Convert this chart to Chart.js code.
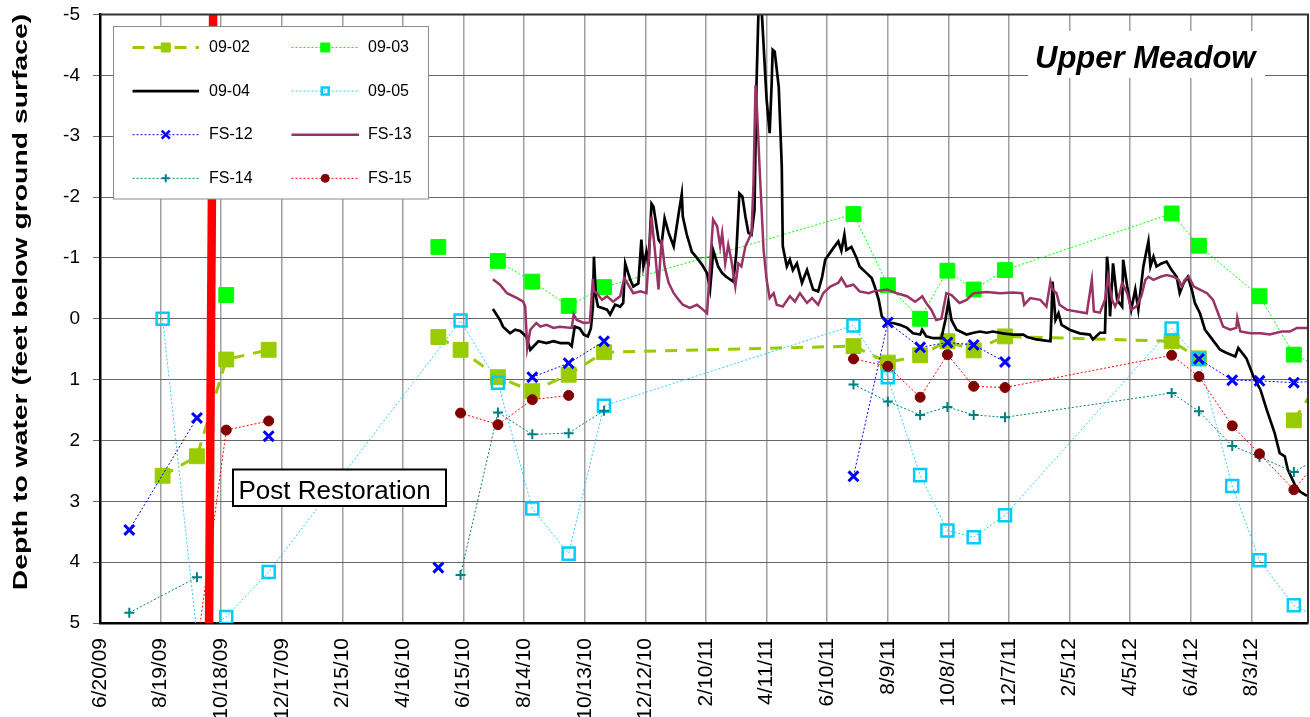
<!DOCTYPE html>
<html>
<head>
<meta charset="utf-8">
<title>Upper Meadow - depth to water</title>
<script src="https://cdn.jsdelivr.net/npm/chart.js@4.4.1/dist/chart.umd.min.js"></script>
<style>
  html, body { margin: 0; padding: 0; background: #fff; overflow: hidden; }
  canvas { display: block; }
</style>
</head>
<body>
<canvas id="chart" width="1310" height="717"></canvas>
<script>
const FONT = "Arial, 'Liberation Sans', sans-serif";
const Y_TITLE = "Depth to water (feet below ground surface)";
const SITE_NAME = "Upper Meadow";
const RESTORATION_LABEL = "Post Restoration";

// x axis: days counted from the first tick, one tick every 60 days
const START_DATE = "2009-06-20";
const END_DATE = "2012-09-28";
const TICK_STEP_DAYS = 60;

// y axis (depth below ground surface, negative = above ground)
const DEPTH_MIN = -5;
const DEPTH_MAX = 5;

// manual sampling rounds; the two winter rows have no readings (gap rows)
const SAMPLE_DATES = [
  "2009-07-19", "2009-08-21", "2009-09-24", "2009-10-23", "2009-12-04",
  "2010-03-01",
  "2010-05-21", "2010-06-12", "2010-07-19", "2010-08-22", "2010-09-27", "2010-11-01",
  "2011-03-01",
  "2011-07-06", "2011-08-09", "2011-09-10", "2011-10-07", "2011-11-02", "2011-12-03",
  "2012-05-16", "2012-06-12", "2012-07-15", "2012-08-11", "2012-09-14", "2012-10-10"
];

const __ = undefined; // not sampled: the line passes over it (null = line breaks)

const DEPTH_09_02 = [__, 2.58, 2.26, 0.67, 0.51, null, 0.30, 0.51, 0.96, 1.19, 0.92, 0.55, __,
  0.45, 0.72, 0.60, 0.37, 0.52, 0.29, 0.37, 0.65, null, null, 1.67, 1.00];
const DEPTH_09_03 = [__, __, __, -0.39, __, null, -1.18, null, -0.95, -0.61, -0.21, -0.52, __,
  -1.72, -0.55, 0.00, -0.79, -0.48, -0.80, -1.73, -1.20, __, -0.37, 0.59, 0.79];
const DEPTH_09_05 = [__, 0.00, 5.20, 4.90, 4.16, __, __, 0.03, 1.05, 3.12, 3.86, 1.43, __,
  0.11, 0.96, 2.57, 3.48, 3.59, 3.23, 0.16, 0.66, 2.75, 3.97, 4.71, 4.93];
const DEPTH_FS_12 = [3.47, __, 1.63, null, 1.93, null, 4.09, null, __, 0.96, 0.73, 0.37, null,
  2.59, 0.06, 0.47, 0.39, 0.43, 0.71, null, 0.66, 1.01, 1.02, 1.05, 1.02];
const DEPTH_FS_14 = [4.83, __, 4.25, null, __, null, __, 4.21, 1.54, 1.90, 1.88, 1.51, null,
  1.08, 1.36, 1.58, 1.45, 1.58, 1.62, 1.22, 1.52, 2.09, 2.27, 2.52, 2.27];
const DEPTH_FS_15 = [__, __, 5.40, 1.83, 1.68, null, __, 1.55, 1.74, 1.33, 1.26, __, null,
  0.66, 0.78, 1.29, 0.59, 1.11, 1.13, 0.60, 0.95, 1.76, 2.22, 2.81, 2.29];

// data loggers (09-04, FS-13): day since START_DATE, depth
const LOGGER_09_04_DAY = [
  389, 396, 399, 406, 411, 416, 422, 426, 434, 442,
  449, 456, 464, 467, 470, 475, 479, 483, 486, 488,
  489, 491, 493, 502, 505, 510, 515, 518, 520, 525,
  528, 533, 536, 538, 541, 543, 546, 548, 553, 556,
  559, 563, 568, 573, 576, 577, 581, 586, 591, 596,
  601, 604, 606, 607, 612, 616, 620, 627, 630, 633,
  636, 639, 642, 645, 648, 650, 652, 655, 660, 663,
  665, 666, 668, 672, 675, 676, 680, 683, 686, 690,
  695, 700, 703, 706, 711, 715, 718, 726, 731, 734,
  737, 739, 744, 749, 752, 759, 764, 767, 771, 774,
  779, 785, 792, 799, 805, 812, 814, 818, 825, 833,
  837, 840, 843, 848, 858, 865, 871, 878, 884, 894,
  904, 914, 918, 927, 941, 942, 943, 946, 949, 952,
  960, 970, 980, 983, 990, 995, 997, 998, 1000, 1003,
  1007, 1012, 1013, 1017, 1021, 1025, 1028, 1033, 1038, 1040,
  1043, 1046, 1051, 1056, 1061, 1066, 1069, 1073, 1077, 1081,
  1084, 1089, 1094, 1099, 1104, 1109, 1115, 1124, 1127, 1135,
  1142, 1149, 1155, 1163, 1168, 1173, 1176, 1183, 1188, 1195
];
const LOGGER_09_04_DEPTH = [
  -0.16, 0.02, 0.13, 0.24, 0.18, 0.20, 0.29, 0.51, 0.37, 0.40,
  0.37, 0.40, 0.40, 0.45, 0.13, 0.16, 0.26, 0.29, 0.16, -0.20,
  -1.02, -0.37, -0.20, -0.15, -0.07, -0.23, -0.20, -0.26, -0.91, -0.64,
  -0.53, -0.58, -1.30, -0.86, -1.10, -0.86, -1.89, -1.84, -1.30, -1.22,
  -1.65, -1.41, -1.19, -1.74, -2.05, -1.68, -1.38, -1.10, -1.00, -0.89,
  -0.75, -0.48, -0.86, -1.13, -0.86, -0.75, -0.69, -0.61, -1.08, -2.06,
  -2.01, -1.68, -1.41, -1.38, -1.79, -3.87, -5.10, -5.10, -3.60, -3.05,
  -3.87, -4.42, -4.39, -3.81, -2.50, -1.19, -0.86, -0.97, -0.80, -0.91,
  -0.59, -0.80, -0.64, -0.48, -0.45, -0.69, -0.97, -1.16, -1.27, -1.12,
  -1.38, -1.13, -1.18, -1.00, -0.86, -0.75, -0.67, -0.53, -0.31, -0.04,
  0.07, 0.07, 0.10, 0.15, 0.24, 0.26, 0.18, 0.29, 0.32, 0.32,
  0.02, -0.28, 0.02, 0.18, 0.26, 0.23, 0.21, 0.23, 0.21, 0.24,
  0.26, 0.26, 0.30, 0.34, 0.37, -0.04, -0.61, 0.02, -0.09, 0.10,
  0.18, 0.24, 0.26, 0.34, 0.23, 0.23, -1.02, -0.86, -0.04, -0.91,
  -0.31, -0.20, -0.97, -0.53, -0.15, -0.48, -0.15, -0.86, -1.27, -0.86,
  -1.02, -0.86, -0.91, -0.94, -0.80, -0.69, -0.42, -0.59, -0.69, -0.48,
  -0.26, -0.09, 0.18, 0.29, 0.40, 0.51, 0.56, 0.62, 0.48, 0.65,
  0.95, 1.17, 1.49, 1.88, 2.21, 2.26, 2.48, 2.73, 2.84, 2.91
];
const LOGGER_FS_13_DAY = [
  389, 396, 403, 413, 419, 421, 423, 426, 432, 436,
  442, 449, 455, 467, 469, 472, 479, 485, 488, 489,
  492, 497, 502, 508, 515, 519, 523, 528, 535, 541,
  546, 549, 553, 554, 556, 559, 563, 568, 573, 577,
  584, 591, 597, 601, 604, 607, 611, 614, 616, 619,
  622, 625, 629, 632, 635, 639, 642, 645, 647, 649,
  650, 653, 657, 660, 663, 667, 670, 676, 683, 688,
  693, 700, 705, 711, 716, 723, 731, 734, 739, 746,
  752, 761, 766, 779, 789, 799, 807, 812, 814, 818,
  823, 828, 833, 838, 843, 851, 858, 865, 878, 891,
  904, 913, 915, 921, 931, 937, 941, 943, 947, 950,
  957, 967, 977, 982, 984, 990, 995, 998, 1002, 1005,
  1008, 1012, 1017, 1021, 1026, 1031, 1035, 1038, 1043, 1050,
  1056, 1063, 1068, 1071, 1074, 1078, 1083, 1089, 1096, 1102,
  1107, 1112, 1119, 1125, 1126, 1129, 1139, 1149, 1158, 1170,
  1178, 1185, 1195
];
const LOGGER_FS_13_DEPTH = [
  -0.65, -0.56, -0.42, -0.34, -0.28, -0.20, 0.48, 0.18, 0.07, 0.13,
  0.10, 0.15, 0.13, 0.15, -0.07, 0.02, 0.07, 0.06, -0.66, -0.45,
  -0.42, -0.31, -0.37, -0.28, -0.37, -0.67, -0.56, -0.42, -0.45, -0.42,
  -1.68, -1.19, -0.48, -0.80, -1.30, -0.86, -0.59, -0.42, -0.31, -0.23,
  -0.18, -0.23, -0.15, -0.09, -0.86, -1.63, -1.52, -1.19, -1.41, -0.91,
  -1.22, -0.97, -0.53, -0.91, -0.86, -1.19, -1.30, -1.41, -2.23, -3.84,
  -3.60, -2.50, -1.13, -0.64, -0.34, -0.42, -0.23, -0.20, -0.37, -0.28,
  -0.42, -0.26, -0.34, -0.23, -0.42, -0.53, -0.59, -0.67, -0.53, -0.56,
  -0.45, -0.42, -0.45, -0.48, -0.42, -0.37, -0.28, -0.34, -0.37, -0.26,
  -0.15, 0.02, 0.00, -0.42, -0.39, -0.26, -0.31, -0.42, -0.44, -0.42,
  -0.43, -0.42, -0.23, -0.34, -0.31, -0.20, -0.61, -0.48, -0.42, -0.23,
  -0.15, -0.12, -0.09, -0.64, -0.12, -0.10, -0.31, -0.69, -0.31, -0.20,
  -0.31, -0.59, -0.42, -0.15, -0.20, -0.37, -0.64, -0.69, -0.64, -0.69,
  -0.72, -0.69, -0.64, -0.53, -0.64, -0.69, -0.53, -0.48, -0.42, -0.31,
  -0.09, 0.13, 0.18, 0.15, -0.01, 0.21, 0.24, 0.24, 0.26, 0.21,
  0.21, 0.15, 0.15
];

// restoration marker line
const RESTORATION_DATES = ["2009-10-10", "2009-10-06"];
const RESTORATION_DEPTH = [-5, 5];

const DAY_MS = 86400000;
const startMs = Date.parse(START_DATE);
function dayOf(s) { return Math.round((Date.parse(s) - startMs) / DAY_MS); }
function fmtDay(d) {
  const dt = new Date(startMs + d * DAY_MS);
  return (dt.getUTCMonth() + 1) + "/" + dt.getUTCDate() + "/" + String(dt.getUTCFullYear()).slice(2);
}
function samplePoints(values) {
  const pts = [];
  values.forEach((v, i) => {
    if (v !== undefined) pts.push({ x: dayOf(SAMPLE_DATES[i]), y: v });
  });
  return pts;
}
function loggerPoints(days, depths) {
  return days.map((d, i) => ({ x: d, y: depths[i] }));
}

const DOT = [2, 2];

const datasets = [
  { label: "09-02", data: samplePoints(DEPTH_09_02), borderColor: "#99CC00", borderWidth: 3, borderDash: [12, 9],
    pointStyle: "rect", pointRadius: 10.5, pointBackgroundColor: "#99CC00", pointBorderColor: "#99CC00", pointBorderWidth: 1,
    legendSize: 4.5 },
  { label: "09-03", data: samplePoints(DEPTH_09_03), borderColor: "#00FF00", borderWidth: 1, borderDash: DOT,
    pointStyle: "rect", pointRadius: 10.5, pointBackgroundColor: "#00FF00", pointBorderColor: "#00FF00", pointBorderWidth: 1,
    legendSize: 4.5 },
  { label: "09-04", data: loggerPoints(LOGGER_09_04_DAY, LOGGER_09_04_DEPTH), borderColor: "#000000", borderWidth: 2.7,
    pointRadius: 0, pointStyle: false },
  { label: "09-05", data: samplePoints(DEPTH_09_05), borderColor: "#33CCFF", borderWidth: 1, borderDash: DOT,
    pointStyle: "rect", pointRadius: 8.5, pointBackgroundColor: "rgba(0,0,0,0)", pointBorderColor: "#00CCFF", pointBorderWidth: 2.5,
    legendSize: 3.5 },
  { label: "FS-12", data: samplePoints(DEPTH_FS_12), borderColor: "#0000FF", borderWidth: 1, borderDash: DOT,
    pointStyle: "crossRot", pointRadius: 7, pointBackgroundColor: "#0000FF", pointBorderColor: "#0000FF", pointBorderWidth: 3,
    legendSize: 4 },
  { label: "FS-13", data: loggerPoints(LOGGER_FS_13_DAY, LOGGER_FS_13_DEPTH), borderColor: "#993366", borderWidth: 2.5,
    pointRadius: 0, pointStyle: false },
  { label: "FS-14", data: samplePoints(DEPTH_FS_14), borderColor: "#008080", borderWidth: 1, borderDash: DOT,
    pointStyle: "cross", pointRadius: 5, pointBackgroundColor: "#008080", pointBorderColor: "#008080", pointBorderWidth: 2,
    legendSize: 4 },
  { label: "FS-15", data: samplePoints(DEPTH_FS_15), borderColor: "#FF0000", borderWidth: 1, borderDash: DOT,
    pointStyle: "circle", pointRadius: 5, pointBackgroundColor: "#800000", pointBorderColor: "#800000", pointBorderWidth: 1,
    legendSize: 4 },
  { label: RESTORATION_LABEL, data: RESTORATION_DATES.map((s, i) => ({ x: dayOf(s), y: RESTORATION_DEPTH[i] })),
    borderColor: "#FF0000", borderWidth: 8.5, borderCapStyle: "butt", pointRadius: 0, pointStyle: false, noLegend: true }
];
datasets.forEach((ds, i) => {
  ds.order = datasets.length - i; // later series drawn on top, as in the original
  ds.clip = 0;
  ds.tension = 0;
  ds.fill = false;
  ds.spanGaps = false;
});

function drawMarker(ctx, ds, x, y, s) {
  ctx.save();
  ctx.setLineDash([]);
  ctx.fillStyle = ds.pointBackgroundColor;
  ctx.strokeStyle = ds.pointBorderColor;
  ctx.lineWidth = Math.min(ds.pointBorderWidth, 2.5);
  ctx.beginPath();
  if (ds.pointStyle === "rect") {
    ctx.rect(x - s, y - s, 2 * s, 2 * s);
    ctx.fill();
    ctx.stroke();
  } else if (ds.pointStyle === "circle") {
    ctx.arc(x, y, s, 0, Math.PI * 2);
    ctx.fill();
    ctx.stroke();
  } else if (ds.pointStyle === "crossRot") {
    ctx.moveTo(x - s, y - s); ctx.lineTo(x + s, y + s);
    ctx.moveTo(x + s, y - s); ctx.lineTo(x - s, y + s);
    ctx.stroke();
  } else if (ds.pointStyle === "cross") {
    ctx.moveTo(x - s, y); ctx.lineTo(x + s, y);
    ctx.moveTo(x, y - s); ctx.lineTo(x, y + s);
    ctx.stroke();
  }
  ctx.restore();
}

const decorations = {
  id: "decorations",
  afterDraw(chart) {
    const ctx = chart.ctx;
    const a = chart.chartArea;
    ctx.save();

    // top and right frame
    ctx.strokeStyle = "#333";
    ctx.lineWidth = 2;
    ctx.beginPath();
    ctx.moveTo(a.left, a.top);
    ctx.lineTo(a.right, a.top);
    ctx.lineTo(a.right, a.bottom);
    ctx.stroke();

    // y axis title, stretched along its length like the original
    ctx.save();
    ctx.translate(26.5, 302);
    ctx.rotate(-Math.PI / 2);
    ctx.scale(1.35, 1);
    ctx.fillStyle = "#000";
    ctx.font = "bold 21px " + FONT;
    ctx.textAlign = "center";
    ctx.textBaseline = "alphabetic";
    ctx.fillText(Y_TITLE, 0, 0);
    ctx.restore();

    // site name
    ctx.fillStyle = "#fff";
    ctx.fillRect(1028, 31, 237, 47);
    ctx.fillStyle = "#000";
    ctx.font = "italic bold 31px " + FONT;
    ctx.textBaseline = "alphabetic";
    ctx.textAlign = "left";
    ctx.fillText(SITE_NAME, 1035, 68);

    // legend box
    ctx.fillStyle = "#fff";
    ctx.fillRect(113, 26, 316, 173);
    ctx.strokeStyle = "#8c8c8c";
    ctx.lineWidth = 1;
    ctx.strokeRect(113.5, 26.5, 315, 172.5);

    const items = chart.data.datasets.filter(ds => !ds.noLegend);
    items.forEach((ds, i) => {
      const col = i % 2, row = Math.floor(i / 2);
      const y = 47.5 + row * 43.6;
      const x0 = col ? 291.5 : 132.5;
      const x1 = col ? 359 : 199;
      const mx = (x0 + x1) / 2;
      ctx.save();
      ctx.strokeStyle = ds.borderColor;
      ctx.lineWidth = ds.borderWidth;
      ctx.setLineDash(ds.borderDash || []);
      ctx.beginPath();
      ctx.moveTo(x0, y);
      ctx.lineTo(x1, y);
      ctx.stroke();
      ctx.restore();
      if (ds.pointRadius > 0) drawMarker(ctx, ds, mx, y, ds.legendSize);
      ctx.fillStyle = "#000";
      ctx.font = "16px " + FONT;
      ctx.textBaseline = "middle";
      ctx.textAlign = "left";
      ctx.fillText(ds.label, col ? 368 : 209, y);
    });

    // restoration label
    ctx.fillStyle = "#fff";
    ctx.fillRect(233, 469.5, 213, 36.5);
    ctx.strokeStyle = "#000";
    ctx.lineWidth = 2;
    ctx.setLineDash([]);
    ctx.strokeRect(233, 469.5, 213, 36.5);
    ctx.fillStyle = "#000";
    ctx.font = "26px " + FONT;
    ctx.textBaseline = "alphabetic";
    ctx.fillText(RESTORATION_LABEL, 238.5, 499);

    ctx.restore();
  }
};

new Chart(document.getElementById("chart"), {
  type: "line",
  data: { datasets: datasets },
  options: {
    responsive: false,
    animation: false,
    devicePixelRatio: 1,
    layout: { autoPadding: false, padding: { top: 14.5, right: 2, bottom: 0, left: 0 } },
    plugins: {
      legend: { display: false },
      tooltip: { enabled: false }
    },
    scales: {
      x: {
        type: "linear",
        min: 0,
        max: dayOf(END_DATE),
        afterBuildTicks: scale => {
          scale.ticks = scale.ticks.filter(t => t.value % TICK_STEP_DAYS === 0);
        },
        afterFit: scale => {
          scale.height = 94;
          scale.paddingLeft = 0;
          scale.paddingRight = 0;
        },
        ticks: {
          stepSize: TICK_STEP_DAYS,
          includeBounds: false,
          autoSkip: false,
          minRotation: 90,
          maxRotation: 90,
          padding: 15,
          color: "#000",
          font: { family: FONT, size: 21 },
          callback: v => fmtDay(v)
        },
        grid: { color: "#a0a0a0", lineWidth: 1.5, drawTicks: false },
        border: { color: "#000", width: 2.5 }
      },
      y: {
        min: DEPTH_MIN,
        max: DEPTH_MAX,
        reverse: true,
        afterFit: scale => {
          scale.width = 100;
          scale.paddingTop = 0;
          scale.paddingBottom = 0;
        },
        ticks: {
          stepSize: 1,
          padding: 13,
          color: "#000",
          font: { family: FONT, size: 19 }
        },
        grid: { color: "#666", lineWidth: 1, tickLength: 7 },
        border: { color: "#000", width: 2.5 },
        title: { display: false }
      }
    }
  },
  plugins: [decorations]
});
</script>
</body>
</html>
